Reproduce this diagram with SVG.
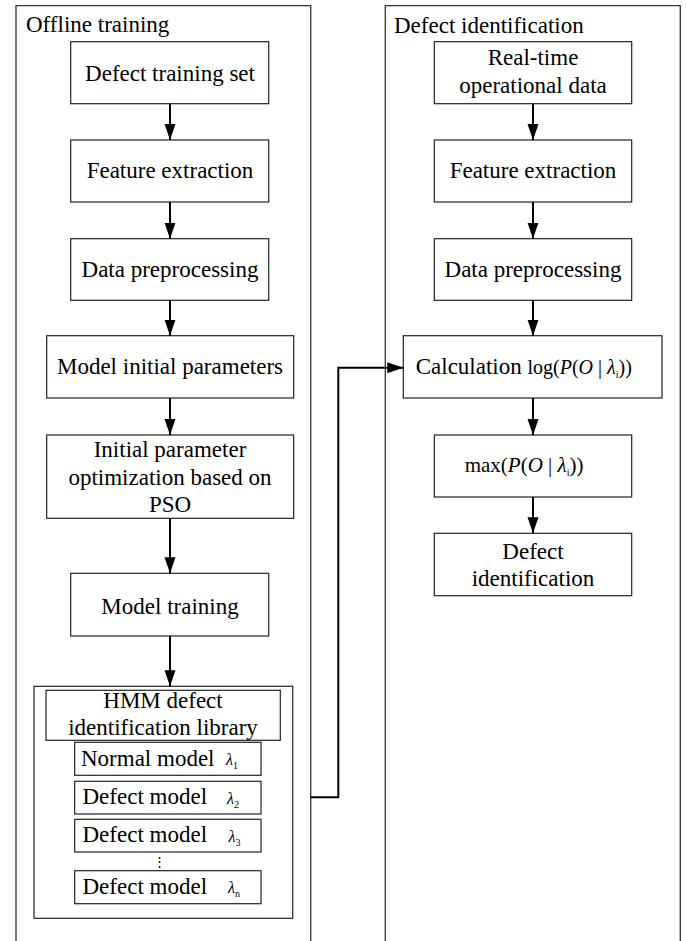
<svg xmlns="http://www.w3.org/2000/svg" width="686" height="941" viewBox="0 0 686 941">
<defs>
<marker id="ah" markerUnits="userSpaceOnUse" markerWidth="17" markerHeight="12" refX="16" refY="5.5" orient="auto">
<path d="M0,0 L16,5.5 L0,11 z" fill="#000"/>
</marker>
<style>
.panel{fill:none;stroke:#333;stroke-width:1.3}
.box{fill:#fff;stroke:#222;stroke-width:1.2}
.t{font-family:"Liberation Serif","Times New Roman",serif;font-size:23px;fill:#000}
.c{text-anchor:middle}
.m{font-family:"Liberation Serif","Times New Roman",serif;font-size:20px;fill:#000}
.i{font-style:italic}
.lam{font-family:"Liberation Serif","Times New Roman",serif;font-size:16px;font-style:italic;fill:#000}
.sub{font-size:10px;font-style:normal}
.conn{fill:none;stroke:#000;stroke-width:2}
</style>
</defs>
<rect width="686" height="941" fill="#fff"/>

<g id="panel-offline">
<path class="panel" d="M16,941 V5.7 H310.7 V941"/>
<text class="t" x="26" y="32">Offline training</text>
</g>
<g id="panel-identification">
<path class="panel" d="M385.3,941 V5.7 H680.3 V941"/>
<text class="t" x="394" y="33">Defect identification</text>
</g>

<g id="n-training-set">
<rect class="box" x="70.7" y="41.7" width="198" height="62"/>
<text class="t c" x="170" y="80.5">Defect training set</text>
</g>
<g id="n-feature-left">
<rect class="box" x="70.7" y="140" width="198" height="62"/>
<text class="t c" x="170" y="178">Feature extraction</text>
</g>
<g id="n-preproc-left">
<rect class="box" x="70.7" y="238.7" width="198" height="61.6"/>
<text class="t c" x="170" y="277">Data preprocessing</text>
</g>
<g id="n-model-init">
<rect class="box" x="46.7" y="335.7" width="247" height="62.3"/>
<text class="t c" x="170" y="373.5">Model initial parameters</text>
</g>
<g id="n-pso">
<rect class="box" x="46.7" y="435" width="247" height="83.3"/>
<text class="t c" x="170" y="457">Initial parameter</text>
<text class="t c" x="170" y="484.5">optimization based on</text>
<text class="t c" x="170" y="512">PSO</text>
</g>
<g id="n-model-training">
<rect class="box" x="70.7" y="573.3" width="198" height="62.7"/>
<text class="t c" x="170" y="613.5">Model training</text>
</g>
<g id="n-hmm-library">
<rect class="box" x="34" y="686.3" width="258.7" height="232"/>
<rect class="box" x="46" y="690.3" width="234.3" height="50"/>
<text class="t c" x="163" y="707.5">HMM defect</text>
<text class="t c" x="163" y="735">identification library</text>
<rect class="box" x="74.7" y="742.3" width="186.3" height="33"/>
<text class="t" x="81" y="766">Normal model</text>
<text class="lam" x="226" y="765">λ<tspan class="sub" dy="4">1</tspan></text>
<rect class="box" x="74.7" y="781.3" width="186.3" height="32.7"/>
<text class="t" x="82.5" y="804">Defect model</text>
<text class="lam" x="227" y="803.5">λ<tspan class="sub" dy="4">2</tspan></text>
<rect class="box" x="74.7" y="819.3" width="186.3" height="32.7"/>
<text class="t" x="82.5" y="842">Defect model</text>
<text class="lam" x="228.5" y="841.5">λ<tspan class="sub" dy="4">3</tspan></text>
<text class="t c" x="159.5" y="866" style="font-size:13px">⋮</text>
<rect class="box" x="74.7" y="870.7" width="186.3" height="33"/>
<text class="t" x="82.5" y="893.5">Defect model</text>
<text class="lam" x="228" y="893">λ<tspan class="sub" dy="4">n</tspan></text>
</g>

<g id="n-realtime">
<rect class="box" x="434.3" y="41.7" width="197.4" height="62"/>
<text class="t c" x="533" y="65">Real-time</text>
<text class="t c" x="533" y="93">operational data</text>
</g>
<g id="n-feature-right">
<rect class="box" x="434.3" y="140" width="197.4" height="62"/>
<text class="t c" x="533" y="178">Feature extraction</text>
</g>
<g id="n-preproc-right">
<rect class="box" x="434.3" y="238.7" width="197.4" height="61.6"/>
<text class="t c" x="533" y="277">Data preprocessing</text>
</g>
<g id="n-calc">
<rect class="box" x="403.3" y="335.7" width="258.7" height="62.3"/>
<text class="t" x="415.7" y="374">Calculation <tspan class="m">log(<tspan class="i">P</tspan>(<tspan class="i">O</tspan> | <tspan class="i">λ</tspan><tspan class="sub i" dy="4">i</tspan><tspan dy="-4">))</tspan></tspan></text>
</g>
<g id="n-max">
<rect class="box" x="434.3" y="435" width="197.4" height="62"/>
<text class="m" x="464.7" y="472" style="font-size:21px">max(<tspan class="i">P</tspan>(<tspan class="i">O</tspan> | <tspan class="i">λ</tspan><tspan class="sub i" dy="4">i</tspan><tspan dy="-4">))</tspan></text>
</g>
<g id="n-defect-id">
<rect class="box" x="434.3" y="533.3" width="197.4" height="62.4"/>
<text class="t c" x="533" y="558.5">Defect</text>
<text class="t c" x="533" y="586">identification</text>
</g>

<g id="connectors">
<line class="conn" x1="170" y1="103.7" x2="170" y2="140" marker-end="url(#ah)"/>
<line class="conn" x1="170" y1="202" x2="170" y2="238.7" marker-end="url(#ah)"/>
<line class="conn" x1="170" y1="300.3" x2="170" y2="335.7" marker-end="url(#ah)"/>
<line class="conn" x1="170" y1="398" x2="170" y2="435" marker-end="url(#ah)"/>
<line class="conn" x1="170" y1="518.3" x2="170" y2="573.3" marker-end="url(#ah)"/>
<line class="conn" x1="170" y1="636" x2="170" y2="686.3" marker-end="url(#ah)"/>
<line class="conn" x1="533" y1="103.7" x2="533" y2="140" marker-end="url(#ah)"/>
<line class="conn" x1="533" y1="202" x2="533" y2="238.7" marker-end="url(#ah)"/>
<line class="conn" x1="533" y1="300.3" x2="533" y2="335.7" marker-end="url(#ah)"/>
<line class="conn" x1="533" y1="398" x2="533" y2="435" marker-end="url(#ah)"/>
<line class="conn" x1="533" y1="497" x2="533" y2="533.3" marker-end="url(#ah)"/>
<path class="conn" d="M310.7,797.3 H338.3 V367.7 H403.3" marker-end="url(#ah)"/>
</g>
</svg>
